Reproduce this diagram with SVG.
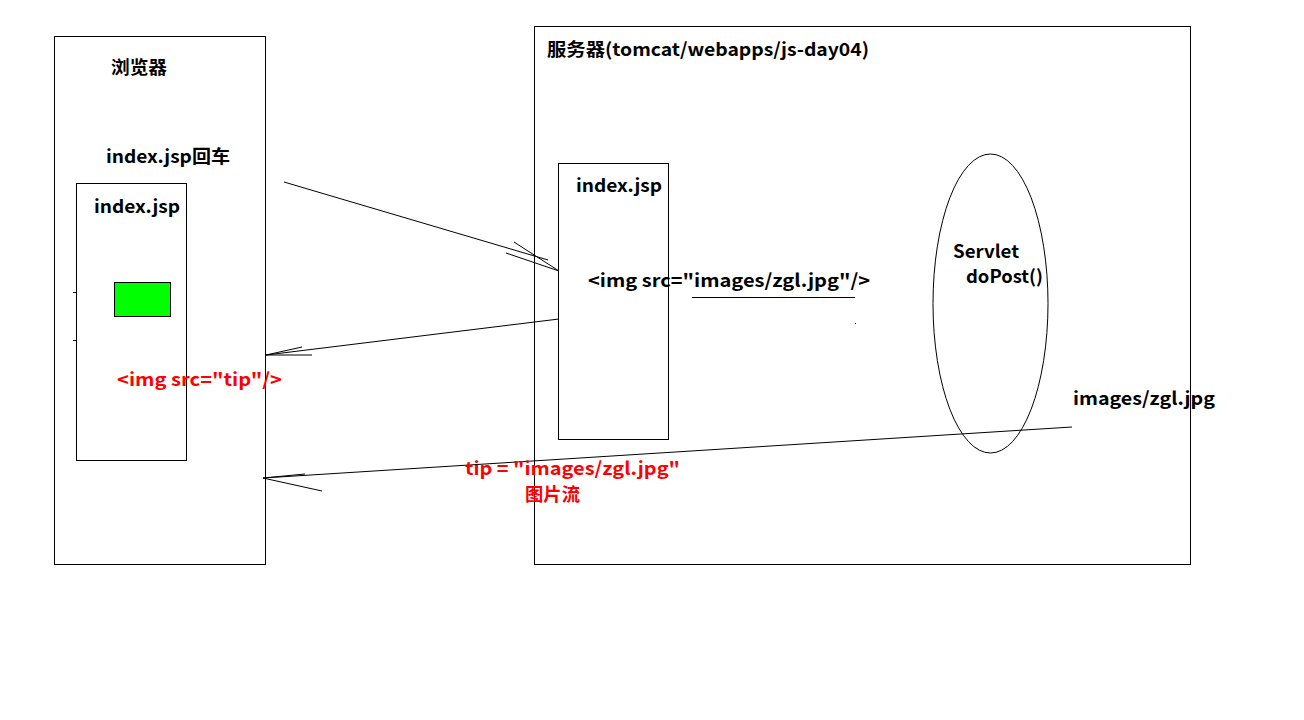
<svg xmlns="http://www.w3.org/2000/svg" width="1304" height="720" viewBox="0 0 1304 720">
<style>
.box{fill:none;stroke:#000;stroke-width:1}
.ln{fill:none;stroke:#000;stroke-width:1}
.t{font-family:"Microsoft YaHei","Noto Sans CJK SC","Noto Sans",sans-serif;font-weight:bold;font-size:18px;fill:#000}
.r{fill:#f00}
</style>
<rect x="0" y="0" width="1304" height="720" fill="#fff"/>
<g id="browser">
<rect class="box" x="54.5" y="36.5" width="211" height="528"/>
<text class="t" x="111" y="74" textLength="56" lengthAdjust="spacingAndGlyphs">浏览器</text>
<text class="t" x="106" y="163" textLength="124" lengthAdjust="spacingAndGlyphs">index.jsp回车</text>
</g>
<g id="browser-index">
<rect class="box" x="76.5" y="183.5" width="110" height="277"/>
<text class="t" x="94" y="213" textLength="86" lengthAdjust="spacingAndGlyphs">index.jsp</text>
<line class="ln" x1="73" y1="292.5" x2="77" y2="292.5"/>
<line class="ln" x1="73" y1="340.5" x2="77" y2="340.5"/>
<text class="t r" x="117" y="386" textLength="165" lengthAdjust="spacingAndGlyphs">&lt;img src="tip"/&gt;</text>
</g>
<g id="green-image">
<rect x="114.5" y="282.5" width="56" height="34" fill="#00ff00" stroke="#000" stroke-width="1"/>
</g>
<g id="server">
<rect class="box" x="534.5" y="26.5" width="656" height="538"/>
<text class="t" x="547" y="56" textLength="322" lengthAdjust="spacingAndGlyphs">服务器(tomcat/webapps/js-day04)</text>
<text class="t" x="1073" y="405" textLength="142" lengthAdjust="spacingAndGlyphs">images/zgl.jpg</text>
</g>
<g id="server-index">
<rect class="box" x="558.5" y="163.5" width="110" height="276"/>
<text class="t" x="576" y="192" textLength="86" lengthAdjust="spacingAndGlyphs">index.jsp</text>
<text class="t" x="588" y="287" textLength="282" lengthAdjust="spacingAndGlyphs">&lt;img src="images/zgl.jpg"/&gt;</text>
<line class="ln" x1="692" y1="297.5" x2="855" y2="297.5"/>
<rect x="855" y="323" width="1" height="1" fill="#000"/>
</g>
<g id="servlet">
<ellipse class="box" cx="990.5" cy="303.5" rx="57.5" ry="149.5"/>
<text class="t" x="953" y="258" textLength="66" lengthAdjust="spacingAndGlyphs">Servlet</text>
<text class="t" x="966" y="283" textLength="77" lengthAdjust="spacingAndGlyphs">doPost()</text>
</g>
<g id="connectors">
<polyline class="ln" points="284,182 548,260"/>
<polyline class="ln" points="514,242 559,271 506,253"/>
<polyline class="ln" points="559,319 266,355"/>
<polyline class="ln" points="302,347 266,355 312,355"/>
<polyline class="ln" points="1072,427 263,478"/>
<polyline class="ln" points="305,474 263,478 322,491"/>
</g>
<g id="labels">
<text class="t r" x="465" y="475" textLength="215" lengthAdjust="spacingAndGlyphs">tip = "images/zgl.jpg"</text>
<text class="t r" x="525" y="501" textLength="55" lengthAdjust="spacingAndGlyphs">图片流</text>
</g>
</svg>
